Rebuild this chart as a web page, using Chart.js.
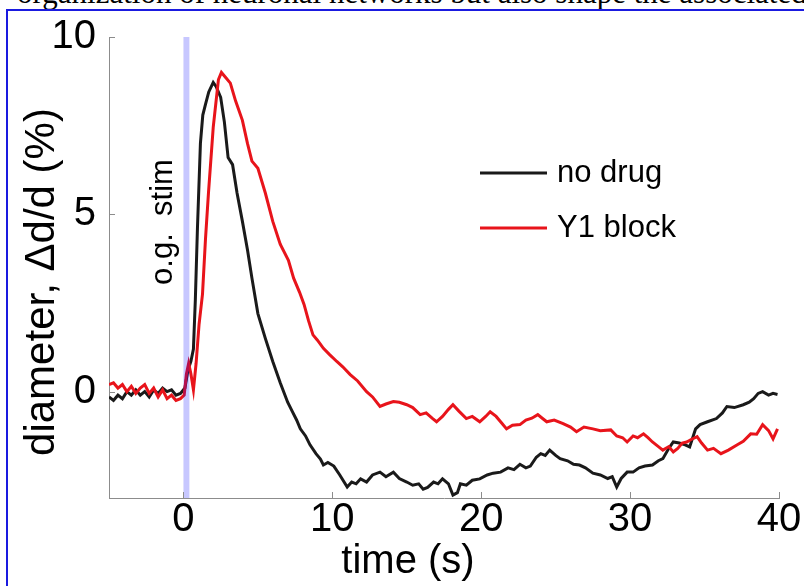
<!DOCTYPE html>
<html>
<head>
<meta charset="utf-8">
<script src="https://cdn.jsdelivr.net/npm/chart.js@4.4.0/dist/chart.umd.min.js"></script>
<style>
  html, body { margin: 0; padding: 0; background: #fff; }
  #wrap { position: relative; width: 804px; height: 586px; overflow: hidden; }
  #caption { position: absolute; left: 17px; top: -23px; font-family: "Liberation Serif", "Times New Roman", serif;
             font-size: 31px; line-height: 31px; white-space: nowrap; color: #000; }
  #frame { position: absolute; left: 6px; top: 9px; width: 820px; height: 600px;
           border-left: 2px solid #1a1ae0; border-top: 2px solid #1a1ae0; }
  canvas { position: absolute; left: 0; top: 0; }
</style>
</head>
<body>
<div id="wrap">
  <div id="caption">organization of neuronal networks but also shape the associated</div>
  <div id="frame"></div>
  <canvas id="diamChart" width="804" height="586"></canvas>
</div>
<script>
// time (s), diameter change (%)
const noDrugX = [-5.0,-4.7,-4.4,-4.1,-3.8,-3.5,-3.2,-2.9,-2.6,-2.3,-2.0,-1.7,-1.4,-1.1,-0.8,-0.5,-0.2,0.1,0.3,0.5,0.67,0.8,0.94,1.14,1.3,1.48,1.7,2.0,2.2,2.5,2.75,3.0,3.3,3.6,3.96,4.3,4.6,5.0,5.5,6.0,6.5,7.0,7.3,7.6,7.85,8.2,8.5,8.9,9.2,9.4,9.7,10.1,10.5,11.0,11.3,11.6,11.9,12.3,12.7,13.2,13.6,14.1,14.5,15.0,15.4,15.8,16.1,16.4,16.8,17.1,17.4,17.8,18.1,18.4,18.6,19.0,19.4,19.9,20.4,20.8,21.3,21.8,22.2,22.6,23.0,23.3,23.7,24.0,24.3,24.6,25.0,25.3,25.8,26.2,26.6,27.0,27.5,28.0,28.5,28.8,29.1,29.4,29.8,30.2,30.6,31.0,31.5,31.9,32.2,32.6,32.9,33.3,33.7,34.0,34.4,34.7,35.2,35.8,36.2,36.5,37.0,37.6,38.0,38.3,38.6,38.9,39.3,39.6,39.9];
const noDrugY = [-0.15,-0.25,-0.1,-0.2,0.0,-0.1,0.05,-0.1,0.0,-0.15,0.05,-0.05,0.1,0.0,0.05,-0.1,-0.05,0.1,0.6,0.85,1.2,2.6,4.6,7.0,7.8,8.1,8.45,8.72,8.6,8.3,7.6,6.6,6.4,5.6,4.8,4.0,3.2,2.2,1.5,0.85,0.25,-0.3,-0.55,-0.8,-1.05,-1.25,-1.5,-1.75,-1.9,-2.07,-2.0,-2.1,-2.35,-2.69,-2.55,-2.6,-2.46,-2.55,-2.35,-2.27,-2.4,-2.27,-2.45,-2.55,-2.64,-2.6,-2.75,-2.7,-2.55,-2.6,-2.46,-2.6,-2.92,-2.85,-2.6,-2.64,-2.5,-2.46,-2.35,-2.3,-2.27,-2.15,-2.2,-2.05,-2.15,-2.1,-1.85,-1.75,-1.8,-1.65,-1.8,-1.89,-1.95,-2.05,-2.07,-2.15,-2.3,-2.35,-2.45,-2.4,-2.69,-2.45,-2.27,-2.27,-2.15,-2.1,-2.07,-1.95,-1.89,-1.6,-1.42,-1.45,-1.5,-1.56,-1.05,-0.93,-0.85,-0.76,-0.6,-0.42,-0.45,-0.37,-0.3,-0.2,-0.05,0.0,-0.1,-0.05,-0.08];

const y1BlockX = [-5.0,-4.7,-4.4,-4.1,-3.8,-3.5,-3.2,-2.9,-2.6,-2.3,-2.0,-1.7,-1.4,-1.1,-0.8,-0.5,-0.2,0.05,0.2,0.35,0.5,0.67,0.85,1.05,1.28,1.48,1.68,2.0,2.35,2.55,2.85,3.15,3.5,3.96,4.3,4.6,5.0,5.5,6.0,6.5,7.05,7.4,7.8,8.1,8.4,8.7,9.0,9.4,9.8,10.3,10.7,11.2,11.7,12.3,12.7,13.2,13.6,14.1,14.5,15.0,15.4,15.9,16.3,16.7,17.0,17.4,17.8,18.1,18.5,19.0,19.4,19.9,20.3,20.6,21.0,21.4,21.7,22.1,22.6,23.0,23.4,23.8,24.1,24.4,24.9,25.5,26.0,26.4,26.9,27.5,28.0,28.7,29.1,29.5,29.8,30.2,30.5,30.9,31.2,31.5,31.9,32.2,32.6,32.9,33.2,33.5,33.8,34.1,34.5,34.8,35.2,35.6,36.1,36.6,37.2,37.6,38.1,38.5,38.9,39.3,39.6,39.9];
const y1BlockY = [0.2,0.25,0.1,0.2,0.0,0.15,-0.05,0.1,0.2,-0.05,0.1,-0.15,0.05,-0.2,-0.1,-0.25,-0.2,-0.1,0.5,0.8,0.5,0.05,0.8,1.9,2.75,4.3,5.6,7.45,8.8,9.0,8.85,8.7,8.2,7.65,7.0,6.5,6.3,5.6,4.8,4.16,3.7,3.2,2.8,2.46,2.0,1.6,1.45,1.22,1.05,0.85,0.7,0.48,0.3,0.0,-0.15,-0.42,-0.35,-0.28,-0.3,-0.37,-0.45,-0.65,-0.6,-0.75,-0.85,-0.7,-0.5,-0.37,-0.55,-0.76,-0.7,-0.85,-0.7,-0.57,-0.7,-0.9,-1.05,-0.95,-0.93,-0.8,-0.75,-0.65,-0.75,-0.85,-0.8,-0.9,-1.0,-1.13,-1.0,-1.05,-1.1,-1.08,-1.25,-1.3,-1.42,-1.25,-1.3,-1.19,-1.3,-1.42,-1.55,-1.65,-1.55,-1.7,-1.6,-1.45,-1.42,-1.35,-1.27,-1.45,-1.65,-1.6,-1.75,-1.65,-1.5,-1.4,-1.19,-1.2,-0.93,-1.1,-1.33,-1.05];

const seriesNames = ['no drug', 'Y1 block'];
const xTickVals = [0, 10, 20, 30, 40];
const yTickVals = [0, 5, 10];
const stimWindow = [0, 0.4];

const toPts = (xs, ys) => xs.map((x, i) => ({x: x, y: ys[i]}));
const axisGray = '#8c8c8c';
const font = '"Liberation Sans", Arial, sans-serif';

// stim band, inward ticks, titles, legend
const extras = {
  id: 'extras',
  afterDatasetsDraw(chart) {
    const {ctx, chartArea: a, scales: {x, y}} = chart;
    ctx.save();
    ctx.fillStyle = 'rgba(0,0,255,0.22)';
    const x0 = x.getPixelForValue(stimWindow[0]), x1 = x.getPixelForValue(stimWindow[1]);
    ctx.fillRect(x0, a.top, x1 - x0, a.bottom - a.top);
    ctx.restore();
  },
  afterDraw(chart) {
    const {ctx, chartArea: a, scales: {x, y}} = chart;
    ctx.save();
    ctx.strokeStyle = axisGray;
    ctx.lineWidth = 1;
    ctx.beginPath();
    xTickVals.forEach(v => {
      const px = Math.round(x.getPixelForValue(v)) + 0.5;
      ctx.moveTo(px, a.bottom); ctx.lineTo(px, a.bottom - 6);
    });
    yTickVals.forEach(v => {
      const py = Math.round(y.getPixelForValue(v)) + 0.5;
      ctx.moveTo(a.left, py); ctx.lineTo(a.left + 6, py);
    });
    ctx.stroke();

    ctx.fillStyle = '#000';
    ctx.textAlign = 'center';
    ctx.textBaseline = 'middle';
    // y title
    ctx.save();
    ctx.translate(42, 282);
    ctx.rotate(-Math.PI / 2);
    ctx.font = '42px ' + font;
    ctx.fillText('diameter, \u0394d/d (%)', 0, 0);
    ctx.restore();
    // stim label
    ctx.save();
    ctx.translate(163, 222);
    ctx.rotate(-Math.PI / 2);
    ctx.font = '31px ' + font;
    ctx.fillText('o.g.  stim', 0, 0);
    ctx.restore();
    // x title
    ctx.font = '40px ' + font;
    ctx.textBaseline = 'alphabetic';
    ctx.fillText('time (s)', 408, 573);

    // legend
    ctx.textAlign = 'left';
    ctx.textBaseline = 'middle';
    ctx.font = '31px ' + font;
    const legY = [173, 228];
    chart.data.datasets.forEach((ds, i) => {
      ctx.strokeStyle = ds.borderColor;
      ctx.lineWidth = 3;
      ctx.beginPath();
      ctx.moveTo(480, legY[i]); ctx.lineTo(547, legY[i]);
      ctx.stroke();
      ctx.fillText(ds.label, 557, legY[i]);
    });
    ctx.restore();
  }
};

new Chart('diamChart', {
  type: 'line',
  data: {
    datasets: [{
      label: seriesNames[0],
      data: toPts(noDrugX, noDrugY),
      borderColor: '#1a1a1a',
      borderWidth: 3,
      pointRadius: 0,
      tension: 0,
      order: 1
    }, {
      label: seriesNames[1],
      data: toPts(y1BlockX, y1BlockY),
      borderColor: '#e8141b',
      borderWidth: 3,
      pointRadius: 0,
      tension: 0,
      order: 0
    }]
  },
  options: {
    responsive: false,
    animation: false,
    layout: { padding: { top: 37, right: 25, left: 0, bottom: 0 } },
    plugins: { legend: { display: false }, tooltip: { enabled: false } },
    scales: {
      x: {
        type: 'linear',
        min: -5, max: 40,
        afterBuildTicks: s => { s.ticks = xTickVals.map(v => ({value: v})); },
        afterFit: s => { s.height = 88; },
        grid: { display: false },
        border: { display: true, color: axisGray, width: 1 },
        ticks: { color: '#000', padding: -10, font: { size: 40, family: font }, maxRotation: 0 }
      },
      y: {
        min: -3, max: 10,
        afterBuildTicks: s => { s.ticks = yTickVals.map(v => ({value: v})); },
        afterFit: s => { s.width = 109; },
        grid: { display: false },
        border: { display: true, color: axisGray, width: 1 },
        ticks: { color: '#000', padding: 5, font: { size: 40, family: font } }
      }
    }
  },
  plugins: [extras]
});
</script>
</body>
</html>
